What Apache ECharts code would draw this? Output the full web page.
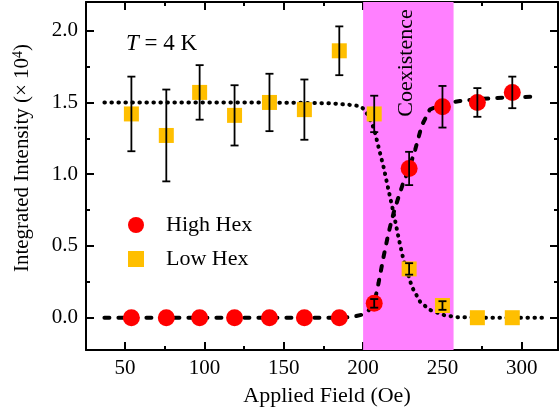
<!DOCTYPE html>
<html>
<head>
<meta charset="utf-8">
<script src="https://cdn.jsdelivr.net/npm/echarts@6/dist/echarts.min.js"></script>
<style>
  html, body { margin: 0; padding: 0; background: #fff; }
  #chart { width: 559px; height: 417px; }
</style>
</head>
<body>
<div id="chart"></div>
<script>
// measured points
var fieldVals = [54, 76, 97, 119, 141, 163, 185, 207, 229, 250, 272, 294];
var highHex = [0, 0, 0, 0, 0, 0, 0, 0.1, 1.04, 1.47, 1.5, 1.57];
var highErr = [0, 0, 0, 0, 0, 0, 0, 0.03, 0.116, 0.145, 0.1, 0.11];
var lowHex = [1.42, 1.27, 1.57, 1.41, 1.5, 1.45, 1.86, 1.42, 0.34, 0.085, 0, 0];
var lowErr = [0.26, 0.32, 0.19, 0.21, 0.2, 0.21, 0.17, 0.127, 0.04, 0.03, 0, 0];

// guide-to-the-eye curves
var lowFitX = [37, 80, 120, 160, 180, 190, 198, 201, 204, 206, 207.6, 209.7, 212.9, 216, 219.2, 222.3, 225.5, 229, 230.7, 236, 242, 251, 259, 280, 314];
var lowFitY = [1.5, 1.5, 1.5, 1.498, 1.494, 1.485, 1.475, 1.45, 1.39, 1.34, 1.285, 1.19, 1.05, 0.89, 0.73, 0.56, 0.4, 0.28, 0.216, 0.11, 0.055, 0.018, 0.004, 0, 0];
var highFitX = [37, 100, 150, 185, 193, 199, 203, 207, 209.7, 212.9, 216, 219.2, 222.3, 225, 229, 232.8, 237, 242, 246, 250, 255, 261, 275, 290, 308.5];
var highFitY = [0, 0, 0, 0, 0.005, 0.02, 0.045, 0.1, 0.24, 0.425, 0.59, 0.73, 0.84, 0.93, 1.04, 1.17, 1.34, 1.45, 1.47, 1.48, 1.5, 1.51, 1.525, 1.535, 1.54];

// coexistence region (Oe)
var coexRange = [200, 257];

// ticks
var xTickVals = [50, 100, 150, 200, 250, 300];
var xMinorVals = [75, 125, 175, 225, 275];
var yTickVals = [0, 0.5, 1, 1.5, 2];
var yMinorVals = [0.25, 0.75, 1.25, 1.75];

var FONT = "'Liberation Serif', 'Times New Roman', serif";
var X_MIN = 25.4, X_MAX = 322.8;
var Y_MIN = -0.225, Y_MAX = 2.2;

function zip(xs, ys) {
  return xs.map(function (x, i) { return [x, ys[i]]; });
}

function errData(vals, errs) {
  var out = [];
  fieldVals.forEach(function (x, i) {
    if (errs[i] > 0) out.push([x, vals[i] - errs[i], vals[i] + errs[i]]);
  });
  return out;
}

function xAxisOf(pos, ticks, len, showLine, labels) {
  return {
    type: "value", position: pos, min: X_MIN, max: X_MAX,
    splitLine: { show: false },
    axisLine: { show: showLine, onZero: false, lineStyle: { color: "#000", width: 2 } },
    axisTick: { show: true, inside: true, length: len, customValues: ticks, lineStyle: { color: "#000", width: 2 } },
    axisLabel: labels ? {
      show: true, customValues: ticks, margin: 8, color: "#000",
      fontFamily: FONT, fontSize: 21
    } : { show: false }
  };
}

function yAxisOf(pos, ticks, len, showLine, labels) {
  return {
    type: "value", position: pos, min: Y_MIN, max: Y_MAX,
    splitLine: { show: false },
    axisLine: { show: showLine, onZero: false, lineStyle: { color: "#000", width: 2 } },
    axisTick: { show: true, inside: true, length: len, customValues: ticks, lineStyle: { color: "#000", width: 2 } },
    axisLabel: labels ? {
      show: true, customValues: ticks, margin: 8, color: "#000",
      fontFamily: FONT, fontSize: 21,
      formatter: function (v) { return v.toFixed(1); }
    } : { show: false }
  };
}

function renderErr(params, api) {
  var x = api.value(0);
  var lo = api.coord([x, api.value(1)]);
  var hi = api.coord([x, api.value(2)]);
  var w = 4;
  var st = { stroke: "#000", lineWidth: 1.8 };
  return {
    type: "group",
    children: [
      { type: "line", shape: { x1: lo[0], y1: lo[1], x2: hi[0], y2: hi[1] }, style: st },
      { type: "line", shape: { x1: lo[0] - w, y1: lo[1], x2: lo[0] + w, y2: lo[1] }, style: st },
      { type: "line", shape: { x1: hi[0] - w, y1: hi[1], x2: hi[0] + w, y2: hi[1] }, style: st }
    ]
  };
}

var chart = echarts.init(document.getElementById("chart"));

chart.setOption({
  animation: false,
  backgroundColor: "#fff",
  grid: { left: 86, right: 1, top: 2, bottom: 67 },
  xAxis: [
    xAxisOf("bottom", xTickVals, 8, true, true),
    xAxisOf("top", xTickVals, 8, true, false),
    xAxisOf("bottom", xMinorVals, 4, false, false),
    xAxisOf("top", xMinorVals, 4, false, false)
  ],
  yAxis: [
    yAxisOf("left", yTickVals, 8, true, true),
    yAxisOf("right", yTickVals, 8, true, false),
    yAxisOf("left", yMinorVals, 4, false, false),
    yAxisOf("right", yMinorVals, 4, false, false)
  ],
  legend: {
    orient: "vertical",
    left: 123, top: 209,
    itemWidth: 16, itemHeight: 16, itemGap: 12,
    data: [
      { name: "High Hex", icon: "circle" },
      { name: "Low Hex", icon: "rect" }
    ],
    textStyle: { fontFamily: FONT, fontSize: 22, color: "#000", lineHeight: 22, padding: [0, 0, 0, 17] }
  },
  graphic: [
    {
      type: "text", left: 126, top: 32, z: 10,
      style: {
        text: "{i|T} = 4 K",
        font: "23px " + FONT, fill: "#000",
        rich: { i: { fontStyle: "italic", fontFamily: FONT, fontSize: 23 } }
      }
    },
    {
      type: "text", x: 406, y: 63, rotation: Math.PI / 2, z: 10,
      style: {
        text: "Coexistence", font: "22px " + FONT, fill: "#000",
        align: "center", verticalAlign: "middle"
      }
    },
    {
      type: "text", x: 22, y: 158, rotation: Math.PI / 2, z: 10,
      style: {
        text: "Integrated Intensity (\u00d7 10{s|4})",
        font: "21px " + FONT, fill: "#000",
        align: "center", verticalAlign: "middle",
        rich: { s: { fontFamily: FONT, fontSize: 14, verticalAlign: "top", lineHeight: 21 } }
      }
    },
    {
      type: "text", x: 327, y: 396, z: 10,
      style: {
        text: "Applied Field (Oe)", font: "22px " + FONT, fill: "#000",
        align: "center", verticalAlign: "middle"
      }
    }
  ],
  series: [
    {
      name: "band", type: "scatter", data: [], z: 0, silent: true,
      markArea: {
        silent: true,
        itemStyle: { color: "#ff80ff", opacity: 1 },
        data: [[{ xAxis: coexRange[0] }, { xAxis: coexRange[1] }]]
      }
    },
    {
      name: "lowFit", type: "line", data: zip(lowFitX, lowFitY), z: 2,
      showSymbol: false, symbol: "none", silent: true,
      lineStyle: { color: "#000", width: 4, type: [0.5, 6.5], cap: "round" }
    },
    {
      name: "highFit", type: "line", data: zip(highFitX, highFitY), z: 2,
      showSymbol: false, symbol: "none", silent: true,
      lineStyle: { color: "#000", width: 4, type: [5, 9], cap: "round" }
    },
    {
      name: "High Hex", type: "scatter", data: zip(fieldVals, highHex), z: 3,
      symbol: "circle", symbolSize: 17,
      itemStyle: { color: "#ff0000", opacity: 1 }
    },
    {
      name: "Low Hex", type: "scatter", data: zip(fieldVals, lowHex), z: 3,
      symbol: "rect", symbolSize: 15,
      itemStyle: { color: "#ffbf00", opacity: 1 }
    },
    {
      name: "highErr", type: "custom", data: errData(highHex, highErr), z: 4,
      renderItem: renderErr, silent: true, encode: { x: 0, y: [1, 2] }
    },
    {
      name: "lowErr", type: "custom", data: errData(lowHex, lowErr), z: 4,
      renderItem: renderErr, silent: true, encode: { x: 0, y: [1, 2] }
    }
  ]
});
</script>
</body>
</html>
